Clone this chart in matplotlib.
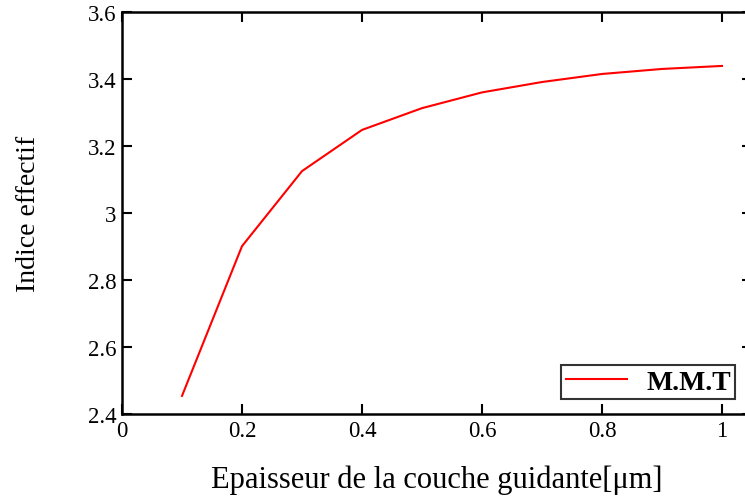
import matplotlib
matplotlib.use('Agg')
import matplotlib.pyplot as plt

# thickness of the guiding layer (um) and effective index
thickness = [0.1, 0.2, 0.3, 0.4, 0.5, 0.6, 0.7, 0.8, 0.9, 1.0]
n_eff = [2.454, 2.901, 3.125, 3.248, 3.313, 3.360, 3.391, 3.415, 3.430, 3.439]

x_ticks = [0, 0.2, 0.4, 0.6, 0.8, 1]
x_tick_labels = ['0', '0.2', '0.4', '0.6', '0.8', '1']
y_ticks = [2.4, 2.6, 2.8, 3.0, 3.2, 3.4, 3.6]
y_tick_labels = ['2.4', '2.6', '2.8', '3', '3.2', '3.4', '3.6']

plt.rcParams['font.family'] = ['Liberation Serif', 'DejaVu Serif']

fig = plt.figure(figsize=(7.45, 5.02), dpi=100)
# axes run past the right edge of the picture, like in the original
ax = fig.add_axes([122 / 745, 1 - 415 / 502, 630 / 745, 402 / 502])

ax.plot(thickness, n_eff, color='red', linewidth=1.5, label='M.M.T')

ax.set_xlim(0, 1.05)
ax.set_ylim(2.4, 3.6)
ax.set_xticks(x_ticks)
ax.set_xticklabels(x_tick_labels)
ax.set_yticks(y_ticks)
ax.set_yticklabels(y_tick_labels)

ax.tick_params(direction='in', length=7, width=1.5, top=True, right=True,
               labelsize=16.5, pad=4)
for spine in ax.spines.values():
    spine.set_linewidth(1.8)

ax.set_xlabel('Epaisseur de la couche guidante[\u03bcm]', fontsize=22, labelpad=17)
ax.set_ylabel('Indice effectif', fontsize=20, labelpad=34)

leg = ax.legend(loc='lower right', bbox_to_anchor=(613 / 630, 15 / 402),
                prop={'weight': 'bold', 'size': 20}, frameon=True, fancybox=False,
                handlelength=2.2, handletextpad=0.7, borderpad=0.15,
                borderaxespad=0)
leg.get_frame().set_edgecolor('black')
leg.get_frame().set_linewidth(1.5)

fig.savefig('out.png', dpi=100)
